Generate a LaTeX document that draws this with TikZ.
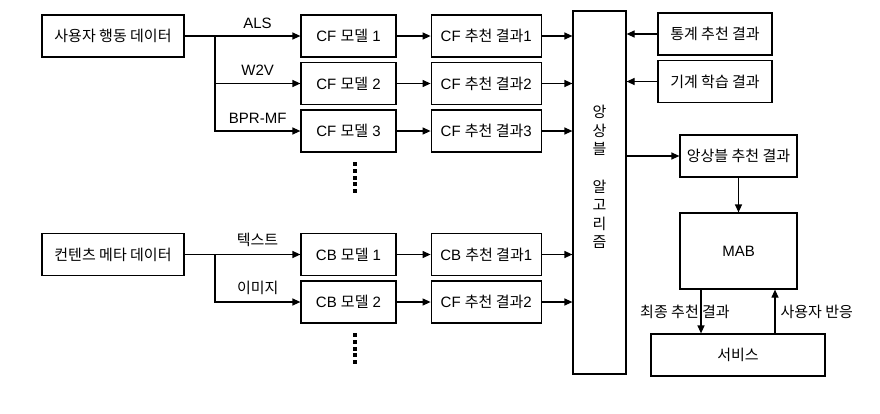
\documentclass[tikz,border=0pt]{standalone}
\usepackage{fontspec}
\setmainfont{Liberation Sans}
\newfontfamily\kr{Noto Sans CJK KR}
\usetikzlibrary{arrows.meta, positioning, calc}
\newcommand{\diagfont}{\fontsize{15}{18.6}\selectfont}
\tikzstyle{block} = [rectangle, draw=black, line width=1.2pt, minimum height=42pt, text centered, inner sep=2pt]
\tikzstyle{datablock} = [block, minimum width=142pt]
\tikzstyle{model} = [block, minimum width=95pt]
\tikzstyle{result} = [block, minimum width=110pt]
\tikzstyle{extra} = [block, minimum width=114pt]
\tikzstyle{mabblock} = [block, minimum width=117pt]
\tikzstyle{arrow} = [line width=1.2pt, -{Triangle[length=8pt,width=7pt]}]
\tikzstyle{edgelabel} = [above, inner sep=0pt, yshift=7pt]

\begin{document}
\begin{tikzpicture}[x=1pt, y=-1pt, font=\diagfont]
    \useasboundingbox (0,0) rectangle (880,413);
    % Nodes
    \node (user) [datablock] at (113,36) {\kr 사용자 행동 데이터};
    \node (meta) [datablock] at (113,254.5) {\kr 컨텐츠 메타 데이터};
    \node (cf1) [model] at (348.5,36) {CF {\kr 모델} 1};
    \node (cf2) [model] at (348.5,83.5) {CF {\kr 모델} 2};
    \node (cf3) [model] at (348.5,131) {CF {\kr 모델} 3};
    \node (cb1) [model] at (348.5,254.5) {CB {\kr 모델} 1};
    \node (cb2) [model] at (348.5,302) {CB {\kr 모델} 2};
    \node (cfres1) [result, right=34pt of cf1] {CF {\kr 추천 결과}1};
    \node (cfres2) [result, right=34pt of cf2] {CF {\kr 추천 결과}2};
    \node (cfres3) [result, right=34pt of cf3] {CF {\kr 추천 결과}3};
    \node (cbres1) [result, right=34pt of cb1] {CB {\kr 추천 결과}1};
    \node (cbres2) [result, right=34pt of cb2] {CF {\kr 추천 결과}2};
    \node (ens) [block, minimum width=53pt, minimum height=363pt] at (599.5,192.5) {};
    \node (enstext) [align=center, font={\diagfont\kr}] at (599.5,177) {앙\\상\\블\\\\알\\고\\리\\즘};
    \node (stat) [extra] at (715,34) {\kr 통계 추천 결과};
    \node (ml) [extra] at (715,81.5) {\kr 기계 학습 결과};
    \node (ensres) [mabblock] at (738.5,156) {\kr 앙상블 추천 결과};
    \node (mab) [mabblock, minimum height=76pt] at (738.5,251) {MAB};
    \node (svc) [block, minimum width=174pt] at (738,355) {\kr 서비스};
    \coordinate (ubr) at (215,36);
    \coordinate (mbr) at (215,254.5);

    % Arrows
    \draw [arrow] (user) -- node[edgelabel, pos=0.63] {ALS} (cf1);
    \draw [arrow] (ubr) |- node[edgelabel, pos=0.75] {W2V} (cf2);
    \draw [arrow] (ubr) |- node[edgelabel, pos=0.75] {BPR-MF} (cf3);
    \draw [arrow] (meta) -- node[edgelabel, pos=0.63] {\kr 텍스트} (cb1);
    \draw [arrow] (mbr) |- node[edgelabel, pos=0.75] {\kr 이미지} (cb2);
    \foreach \i in {1,2,3} {
        \draw [arrow] (cf\i) -- (cfres\i);
        \draw [arrow] (cfres\i) -- (cfres\i -| ens.west);
    }
    \foreach \i in {1,2} {
        \draw [arrow] (cb\i) -- (cbres\i);
        \draw [arrow] (cbres\i) -- (cbres\i -| ens.west);
    }
    \draw [arrow] (stat) -- (stat -| ens.east);
    \draw [arrow] (ml) -- (ml -| ens.east);
    \draw [arrow] (ens.east |- ensres) -- (ensres);
    \draw [arrow] (ensres) -- (mab);
    \draw [arrow] ([xshift=-37.5pt]mab.south) -- node[midway, xshift=-16pt, inner sep=0pt] {\kr 최종 추천 결과} ([xshift=-37.5pt]mab.south |- svc.north);
    \draw [arrow] ([xshift=36.5pt]mab.south |- svc.north) -- node[midway, right, inner sep=0pt, xshift=5pt] {\kr 사용자 반응} ([xshift=36.5pt]mab.south);

    % more models
    \foreach \k in {0,...,4} {
        \fill (353,{162+\k*6.75}) rectangle +(4,4);
        \fill (353,{333+\k*6.75}) rectangle +(4,4);
    }
\end{tikzpicture}
\end{document}
